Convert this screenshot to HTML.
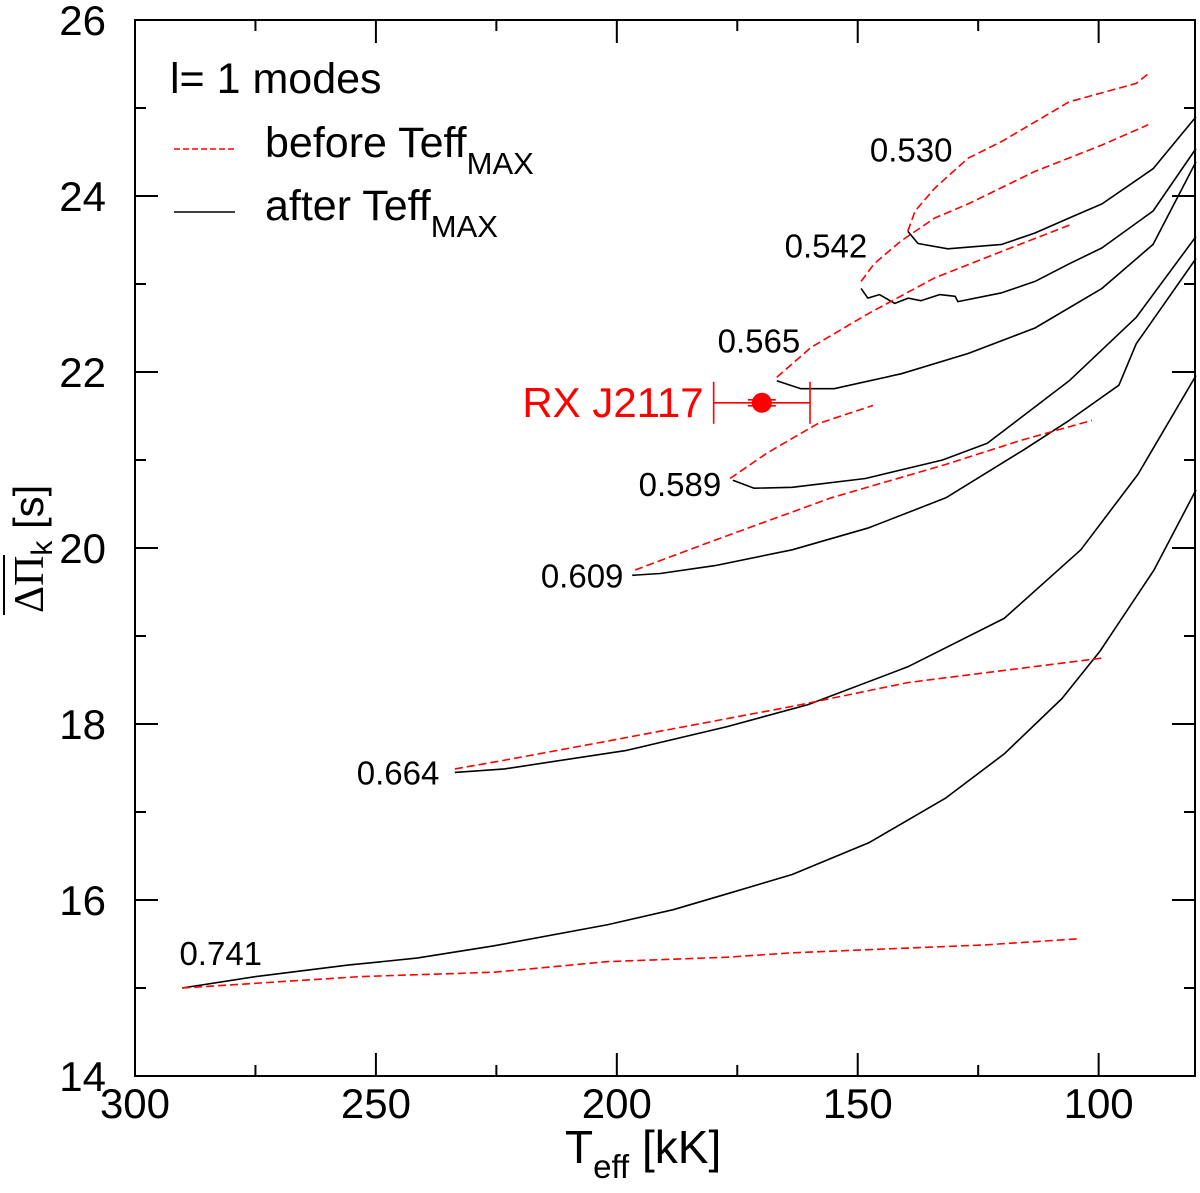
<!DOCTYPE html>
<html><head><meta charset="utf-8"><style>
html,body{margin:0;padding:0;background:#fff;}
svg{display:block;font-family:"Liberation Sans",Arial,sans-serif;}
</style></head><body>
<svg id="chart" width="1200" height="1193" viewBox="0 0 1200 1193"></svg>
<script>
// ---- data ----
const xTicks = [300, 250, 200, 150, 100];
const yTicks = [14, 16, 18, 20, 22, 24, 26];
const masses = ["0.530","0.542","0.565","0.589","0.609","0.664","0.741"];
const after530T = [139.6,137.5,131.3,120.1,113.2,106.1,99.3,88.7,79.8];
const after530P = [23.60,23.46,23.40,23.45,23.58,23.75,23.91,24.31,24.90];
const before530T = [139.6,138.1,134.0,127.1,120.1,106.1,92.2,89.7];
const before530P = [23.60,23.83,24.09,24.43,24.62,25.07,25.28,25.39];
const after542T = [149.3,147.9,145.5,142.3,139.5,136.9,133.0,129.8,129.2,120.1,113.2,106.1,99.3,88.7,79.8];
const after542P = [22.95,22.84,22.88,22.78,22.84,22.81,22.88,22.86,22.80,22.90,23.03,23.23,23.41,23.83,24.54];
const before542T = [149.3,146.6,141.0,134.0,127.1,113.2,99.3,89.7];
const before542P = [23.03,23.23,23.49,23.75,23.91,24.28,24.58,24.81];
const after565T = [166.8,161.8,154.9,141.0,127.1,113.2,99.3,88.7,79.8];
const after565P = [21.90,21.81,21.81,21.98,22.21,22.50,22.95,23.45,24.39];
const before565T = [166.8,159.7,147.9,134.0,120.1,105.6];
const before565P = [21.94,22.28,22.66,23.07,23.37,23.68];
const after589T = [175.9,171.5,163.6,148.4,132.4,123.1,106.1,92.2,79.8];
const after589P = [20.77,20.68,20.69,20.79,21.00,21.19,21.90,22.62,23.54];
const before589T = [176.5,168.8,158.4,146.8];
const before589P = [20.79,21.08,21.41,21.62];
const after609T = [196.8,191.0,179.6,163.6,147.7,131.7,115.7,106.1,95.8,92.2,79.8];
const after609P = [19.69,19.71,19.80,19.98,20.23,20.57,21.11,21.45,21.85,22.32,23.29];
const before609T = [196.2,179.6,155.5,131.7,116.3,101.4];
const before609P = [19.75,20.09,20.57,20.95,21.22,21.45];
const after664T = [233.6,223.3,198.0,177.1,160.3,139.6,119.6,103.7,91.8,79.8];
const after664P = [17.45,17.49,17.70,17.97,18.22,18.65,19.20,19.98,20.84,21.96];
const before664T = [233.6,224.2,203.5,163.6,139.6,99.2];
const before664P = [17.49,17.58,17.79,18.20,18.47,18.75];
const after741T = [290.2,274.9,255.8,241.5,225.5,201.8,188.3,177.1,163.6,147.7,131.7,119.6,107.6,99.7,88.5,79.8];
const after741P = [15.00,15.13,15.26,15.34,15.48,15.72,15.89,16.07,16.29,16.65,17.16,17.66,18.29,18.83,19.75,20.66];
const before741T = [290.2,253.3,225.5,201.8,177.1,163.6,123.6,103.8];
const before741P = [15.00,15.13,15.18,15.30,15.35,15.40,15.49,15.56];
const starT = [169.9], starP = [21.65], starErrT = [10.0];
const labelT = [138.9, 156.6, 170.5, 186.9, 207.2, 245.4, 282.2];
const labelP = [24.39, 23.30, 22.22, 20.59, 19.55, 17.31, 15.26];

// ---- axes ----
const L=135,R=1195,T=20,B=1076;
const X=t=>L+(300-t)*(R-L)/220;
const Y=p=>B-(p-14)*(B-T)/12;
const NS="http://www.w3.org/2000/svg";
const svg=document.getElementById('chart');
function mk(tag,attrs,parent){const e=document.createElementNS(NS,tag);for(const k in attrs)e.setAttribute(k,attrs[k]);(parent||svg).appendChild(e);return e;}

for(let t=300;t>=80;t-=25){
  const len=(t%50===0)?23:11;const x=X(t);
  const tb=mk('line',{x1:x,y1:B,x2:x,y2:B-len,stroke:'#000','stroke-width':2});
  
  
  const tt=mk('line',{x1:x,y1:T,x2:x,y2:T+len,stroke:'#000','stroke-width':2});
  
  
}
xTicks.forEach(t=>{
  const e=mk('text',{x:X(t),y:1118,'font-size':42,'text-anchor':'middle'});e.textContent=t;
  
  
});
for(let p=14;p<=26;p+=1){
  const len=(p%2===0)?23:11;const y=Y(p);
  const tl=mk('line',{x1:L,y1:y,x2:L+len,y2:y,stroke:'#000','stroke-width':2});
  
  
  const tr=mk('line',{x1:R,y1:y,x2:R-len,y2:y,stroke:'#000','stroke-width':2});
  
  
}
yTicks.forEach(p=>{
  const e=mk('text',{x:106,y:Y(p)+15,'font-size':42,'text-anchor':'end'});e.textContent=p;
  
  
});
const frame=mk('rect',{x:L,y:T,width:R-L,height:B-T,fill:'none',stroke:'#000','stroke-width':2});



function path(ts,ps,color,dash,name){
  const d=ts.map((t,i)=>(i?'L':'M')+X(t).toFixed(1)+','+Y(ps[i]).toFixed(1)).join(' ');
  const a={d:d,fill:'none',stroke:color,'stroke-width':1.6,'stroke-linejoin':'round'};
  if(dash)a['stroke-dasharray']='8,4';
  const e=mk('path',a);
  
  
}
const afters=[[after530T,after530P],[after542T,after542P],[after565T,after565P],[after589T,after589P],[after609T,after609P],[after664T,after664P],[after741T,after741P]];
const befores=[[before530T,before530P],[before542T,before542P],[before565T,before565P],[before589T,before589P],[before609T,before609P],[before664T,before664P],[before741T,before741P]];
afters.forEach((c,i)=>path(c[0],c[1],'#000',false,'after-curve-'+masses[i].replace('.','')));
befores.forEach((c,i)=>path(c[0],c[1],'#f00',true,'before-curve-'+masses[i].replace('.','')));
masses.forEach((m,i)=>{
  const e=mk('text',{x:X(labelT[i]),y:Y(labelP[i]),'font-size':33,'text-anchor':'middle'});e.textContent=m;
  
  
});

const sx=X(starT[0]),sy=Y(starP[0]);
const x1=X(starT[0]+starErrT[0]),x2=X(starT[0]-starErrT[0]);
const g=mk('g',{stroke:'#f00','stroke-width':1.6});


mk('line',{x1:x1,y1:sy,x2:x2,y2:sy},g);
mk('line',{x1:x1,y1:sy-21,x2:x1,y2:sy+21},g);
mk('line',{x1:x2,y1:sy-21,x2:x2,y2:sy+21},g);
mk('line',{x1:sx-14,y1:sy-3,x2:sx+14,y2:sy-3},g);
mk('line',{x1:sx-14,y1:sy+3,x2:sx+14,y2:sy+3},g);
const dot=mk('circle',{cx:sx,cy:sy,r:10,fill:'#f00'});


const st=mk('text',{x:x1-10,y:sy+14,'font-size':42,fill:'#f00','text-anchor':'end'});st.textContent='RX J2117';


</script>
<div style="position:absolute;left:0;top:0;width:1200px;height:1193px;pointer-events:none">
<svg width="1200" height="1193" style="position:absolute;left:0;top:0;font-family:'Liberation Sans',Arial,sans-serif">
  <g>
    <text x="170" y="93" font-size="43">l= 1 modes</text>
    <line x1="174" y1="149" x2="235" y2="149" stroke="#f00" stroke-width="1.6" stroke-dasharray="6,3"/>
    <text x="265" y="157" font-size="43">before Teff<tspan font-size="31" dy="17">MAX</tspan></text>
    <line x1="174" y1="212" x2="235" y2="212" stroke="#000" stroke-width="1.6"/>
    <text x="265" y="220" font-size="43">after Teff<tspan font-size="31" dy="17">MAX</tspan></text>
  </g>
  <text x="565" y="1163" font-size="46">T<tspan font-size="33" dy="15">eff</tspan><tspan dy="-15"> [kK]</tspan></text>
  <g transform="translate(43,549) rotate(-90)">
    <text x="-64" y="0" font-size="42"><tspan font-family="'Liberation Serif',serif">ΔΠ</tspan><tspan font-size="30" dy="9">k</tspan><tspan dy="-9"> [s]</tspan></text>
    <line x1="-66" y1="-39" x2="-6" y2="-39" stroke="#000" stroke-width="2"/>
  </g>
</svg>
</div>
</body></html>
